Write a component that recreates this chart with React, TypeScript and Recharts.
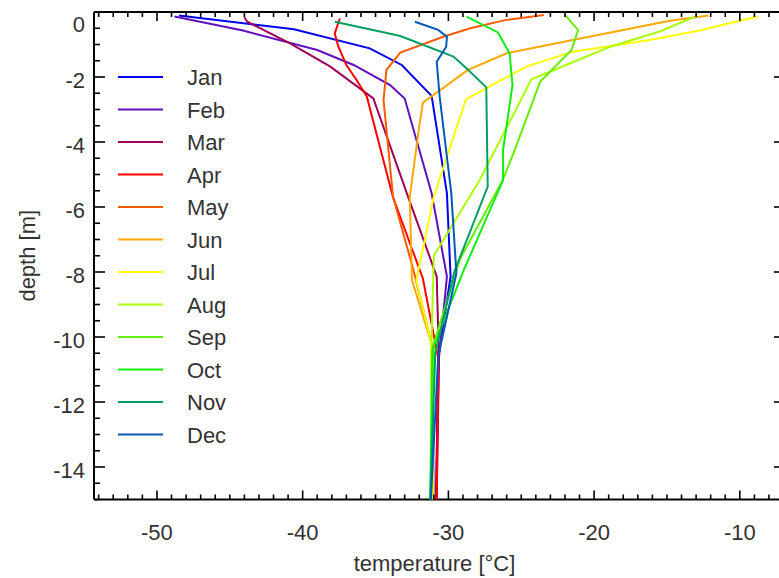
import { ScatterChart, Scatter, XAxis, YAxis, ReferenceLine, Legend } from 'recharts'

// monthly temperature profiles: t = temperature [°C], d = depth [m]
const months = ['Jan', 'Feb', 'Mar', 'Apr', 'May', 'Jun', 'Jul', 'Aug', 'Sep', 'Oct', 'Nov', 'Dec']
const colors = ['#0000f0', '#6010c0', '#a00058', '#ff0000', '#ff5a00', '#ffa800', '#ffff00', '#aaff00', '#66ee00', '#11ee11', '#00a060', '#0058b8']

const jan = [
  { t: -48.5, d: -0.11 }, { t: -40.6, d: -0.53 }, { t: -35.4, d: -1.12 }, { t: -33.2, d: -1.63 },
  { t: -31.15, d: -2.58 }, { t: -30.1, d: -5.58 }, { t: -29.85, d: -8.14 }, { t: -30.7, d: -10.65 }, { t: -30.85, d: -15 },
]
const feb = [
  { t: -48.8, d: -0.14 }, { t: -44.1, d: -0.57 }, { t: -39.0, d: -1.17 }, { t: -36.5, d: -1.63 }, { t: -34.0, d: -2.25 },
  { t: -33.0, d: -2.66 }, { t: -31.15, d: -5.58 }, { t: -30.1, d: -8.14 }, { t: -30.65, d: -10.65 }, { t: -30.85, d: -15 },
]
const mar = [
  { t: -44.0, d: -0.16 }, { t: -43.8, d: -0.3 }, { t: -40.9, d: -0.96 }, { t: -38.1, d: -1.68 }, { t: -35.15, d: -2.66 },
  { t: -32.85, d: -5.58 }, { t: -30.8, d: -8.14 }, { t: -30.65, d: -10.65 }, { t: -30.8, d: -15 },
]
const apr = [
  { t: -37.45, d: -0.2 }, { t: -37.8, d: -0.66 }, { t: -37.55, d: -1.07 }, { t: -37.0, d: -1.63 }, { t: -36.3, d: -2.09 },
  { t: -35.6, d: -2.6 }, { t: -33.8, d: -5.7 }, { t: -31.75, d: -8.2 }, { t: -30.7, d: -10.65 }, { t: -30.8, d: -15 },
]
const may = [
  { t: -23.45, d: -0.09 }, { t: -26.1, d: -0.25 }, { t: -28.5, d: -0.5 }, { t: -30.35, d: -0.76 }, { t: -33.3, d: -1.25 },
  { t: -34.25, d: -1.78 }, { t: -34.45, d: -2.71 }, { t: -33.8, d: -5.68 }, { t: -32.4, d: -7.94 }, { t: -31.1, d: -10.3 }, { t: -31.0, d: -15 },
]
const jun = [
  { t: -12.15, d: -0.11 }, { t: -14.8, d: -0.27 }, { t: -21.2, d: -0.84 }, { t: -26.0, d: -1.27 }, { t: -28.65, d: -1.78 },
  { t: -31.75, d: -2.79 }, { t: -32.0, d: -3.53 }, { t: -32.65, d: -5.68 }, { t: -32.5, d: -8.25 }, { t: -31.2, d: -10.15 }, { t: -31.05, d: -15 },
]
const jul = [
  { t: -8.75, d: -0.14 }, { t: -10.0, d: -0.27 }, { t: -12.75, d: -0.57 }, { t: -16.4, d: -0.88 }, { t: -21.45, d: -1.22 },
  { t: -24.65, d: -1.68 }, { t: -28.8, d: -2.69 }, { t: -31.0, d: -5.68 }, { t: -32.2, d: -8.25 }, { t: -31.2, d: -10.15 }, { t: -31.05, d: -15 },
]
const aug = [
  { t: -12.95, d: -0.12 }, { t: -15.5, d: -0.6 }, { t: -18.9, d: -1.07 }, { t: -24.3, d: -2.07 },
  { t: -27.85, d: -5.17 }, { t: -31.0, d: -7.5 }, { t: -31.15, d: -10.0 }, { t: -31.15, d: -15 },
]
const sep = [
  { t: -22.0, d: -0.09 }, { t: -21.1, d: -0.55 }, { t: -21.55, d: -1.17 }, { t: -23.7, d: -2.14 }, { t: -25.45, d: -4.25 },
  { t: -26.3, d: -5.2 }, { t: -29.2, d: -7.6 }, { t: -31.0, d: -10.2 }, { t: -31.2, d: -15 },
]
const oct = [
  { t: -28.75, d: -0.14 }, { t: -26.6, d: -0.63 }, { t: -25.8, d: -1.27 }, { t: -25.6, d: -2.25 }, { t: -26.25, d: -4.25 },
  { t: -26.25, d: -5.17 }, { t: -29.0, d: -8.0 }, { t: -31.1, d: -10.4 }, { t: -31.25, d: -15 },
]
const nov = [
  { t: -37.8, d: -0.3 }, { t: -34.7, d: -0.6 }, { t: -33.3, d: -0.74 }, { t: -29.65, d: -1.37 }, { t: -28.65, d: -1.78 },
  { t: -27.4, d: -2.32 }, { t: -27.3, d: -5.37 }, { t: -29.6, d: -8.0 }, { t: -30.9, d: -10.5 }, { t: -31.25, d: -15 },
]
const dec = [
  { t: -32.3, d: -0.3 }, { t: -30.7, d: -0.55 }, { t: -30.1, d: -0.76 }, { t: -30.15, d: -1.07 }, { t: -30.8, d: -1.53 },
  { t: -30.6, d: -2.6 }, { t: -29.8, d: -5.58 }, { t: -29.45, d: -8.04 }, { t: -30.7, d: -10.6 }, { t: -31.2, d: -15 },
]
const profiles = [jan, feb, mar, apr, may, jun, jul, aug, sep, oct, nov, dec]

const xDomain: [number, number] = [-54.32, -6.9]
const yDomain: [number, number] = [-15, 0]
const xMajor = [-50, -40, -30, -20, -10]
const yMajor = [0, -2, -4, -6, -8, -10, -12, -14]

// minor ticks: every 1 °C and every 0.5 m
const xTicks: number[] = []
for (let v = -54; v <= -7; v++) xTicks.push(v)
const yTicks: number[] = []
for (let v = -15; v <= 0; v += 0.5) yTicks.push(v)

const W = 790
const H = 578
const AXIS = 30
const M = { top: 12, right: 5, bottom: 78.5 - AXIS, left: 94 - AXIS }
const TOP = M.top
const BOTTOM = H - M.bottom - AXIS
const LEFT = M.left + AXIS
const RIGHT = W - M.right

const FONT = '"Liberation Sans", Arial, Helvetica, sans-serif'
const INK = '#333'

function XTick(props: any) {
  const { x, payload } = props
  const v = payload.value
  const major = xMajor.includes(v)
  const len = major ? 9 : 5
  return (
    <g>
      <line x1={x} x2={x} y1={BOTTOM} y2={BOTTOM - len} stroke="#000" strokeWidth={1.6} />
      <line x1={x} x2={x} y1={TOP} y2={TOP + len} stroke="#000" strokeWidth={1.6} />
      {major && (
        <text x={x} y={BOTTOM + 40} textAnchor="middle" fontSize={22} fontFamily={FONT} fill={INK}>
          {v}
        </text>
      )}
    </g>
  )
}

function YTick(props: any) {
  const { y, payload } = props
  const v = payload.value
  const major = yMajor.includes(v)
  const len = major ? 11 : 6
  // the top label is pushed inside the frame
  const base = v === 0 ? y + 19.5 : y + 11
  return (
    <g>
      <line x1={LEFT} x2={LEFT + len} y1={y} y2={y} stroke="#000" strokeWidth={1.6} />
      <line x1={RIGHT} x2={RIGHT - len} y1={y} y2={y} stroke="#000" strokeWidth={1.6} />
      {major && (
        <text x={LEFT - 9} y={base} textAnchor="end" fontSize={22} fontFamily={FONT} fill={INK}>
          {v}
        </text>
      )}
    </g>
  )
}

function MonthLegend() {
  return (
    <svg width={300} height={470} style={{ display: 'block' }}>
      {months.map((m, i) => {
        const y = 77 + i * 32.5
        return (
          <g key={m}>
            <line x1={118} x2={163} y1={y} y2={y} stroke={colors[i]} strokeWidth={2} />
            <text x={187} y={y + 8} fontSize={22} fontFamily={FONT} fill={INK}>
              {m}
            </text>
          </g>
        )
      })}
    </svg>
  )
}

export default function App() {
  return (
    <div style={{ position: 'absolute', left: 0, top: 0, width: 779, height: H, overflow: 'hidden', background: '#fff' }}>
      <ScatterChart width={W} height={H} margin={M}>
        <XAxis
          type="number"
          dataKey="t"
          domain={xDomain}
          ticks={xTicks}
          interval={0}
          height={AXIS}
          tickSize={0}
          tickMargin={0}
          tick={<XTick />}
          tickLine={false}
          axisLine={{ stroke: '#000', strokeWidth: 2 }}
          allowDataOverflow
        />
        <YAxis
          type="number"
          dataKey="d"
          domain={yDomain}
          ticks={yTicks}
          interval={0}
          width={AXIS}
          tickSize={0}
          tickMargin={0}
          tick={<YTick />}
          tickLine={false}
          axisLine={{ stroke: '#000', strokeWidth: 2 }}
          allowDataOverflow
        />
        <ReferenceLine y={0} stroke="#000" strokeWidth={2} />
        <ReferenceLine x={xDomain[1]} stroke="#000" strokeWidth={2} />
        {profiles.map((data, i) => (
          <Scatter
            key={months[i]}
            name={months[i]}
            data={data}
            fill={colors[i]}
            line={{ stroke: colors[i], strokeWidth: 2 }}
            lineType="joint"
            shape={() => <g />}
            isAnimationActive={false}
          />
        ))}
        <Legend
          layout="vertical"
          align="center"
          verticalAlign="middle"
          wrapperStyle={{ left: 0, top: 0, width: 300, height: 470 }}
          content={() => <MonthLegend />}
        />
      </ScatterChart>
      <div
        style={{
          position: 'absolute',
          left: 0,
          top: 0,
          width: W,
          height: H,
          pointerEvents: 'none',
        }}
      >
        <svg width={W} height={H}>
          <text x={(LEFT + RIGHT) / 2 - 5} y={571} textAnchor="middle" fontSize={22} fontFamily={FONT} fill={INK}>
            temperature [°C]
          </text>
          <text
            x={0}
            y={0}
            transform={`translate(35, ${(TOP + BOTTOM) / 2}) rotate(-90)`}
            textAnchor="middle"
            fontSize={22}
            fontFamily={FONT}
            fill={INK}
          >
            depth [m]
          </text>
        </svg>
      </div>
    </div>
  )
}
